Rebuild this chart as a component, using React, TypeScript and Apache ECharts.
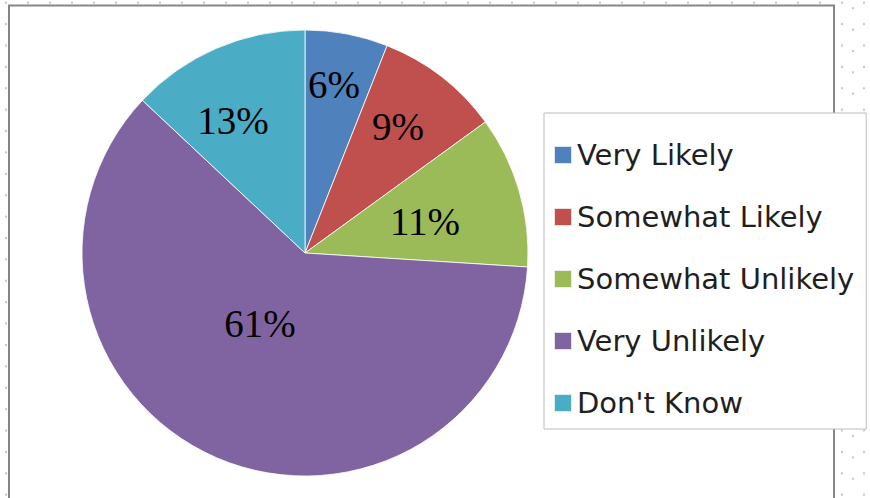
import React, { useEffect, useRef } from 'react';
import * as echarts from 'echarts';

const categories = ['Very Likely', 'Somewhat Likely', 'Somewhat Unlikely', 'Very Unlikely', "Don't Know"];
const values = [6, 9, 11, 61, 13];
const colors = ['#4F81BD', '#C0504D', '#9BBB59', '#8064A2', '#4BACC6'];
// label nudges from the default inside position (px)
const labelShift: number[][] = [[7.5, -56], [22.8, -36], [10, 0], [0.5, -34.5], [-26.5, -27.5]];

export default function App() {
  const ref = useRef<HTMLDivElement>(null);
  useEffect(() => {
    const chart = echarts.init(ref.current!, null, { renderer: 'svg' });
    chart.setOption({
      animation: false,
      color: colors,
      graphic: [
        {
          type: 'rect',
          z: -10,
          silent: true,
          shape: { x: 9, y: 5.5, width: 825, height: 600 },
          style: { fill: '#ffffff', stroke: '#858585', lineWidth: 2 },
        },
      ],
      legend: {
        orient: 'vertical',
        left: 544,
        top: 113,
        data: categories,
        icon: 'rect',
        itemWidth: 18,
        itemHeight: 18,
        itemGap: 32,
        padding: [27, 12, 11, 9],
        backgroundColor: '#ffffff',
        borderColor: '#bdbdbd',
        borderWidth: 1,
        z: 20,
        selectedMode: false,
        textStyle: {
          fontFamily: 'DejaVu Sans',
          fontSize: 29,
          lineHeight: 30,
          color: '#1f1f1f',
        },
      },
      series: [
        {
          type: 'pie',
          center: [305, 253],
          radius: 223,
          startAngle: 90,
          clockwise: true,
          avoidLabelOverlap: false,
          silent: true,
          label: {
            show: true,
            position: 'inside',
            formatter: '{c}%',
            fontFamily: 'Liberation Serif',
            fontSize: 39,
            color: '#000000',
            textBorderWidth: 0,
          },
          labelLine: { show: false },
          itemStyle: { borderColor: 'rgba(255,255,255,0.8)', borderWidth: 1 },
          emphasis: { disabled: true },
          labelLayout: (p: any) => ({ dx: labelShift[p.dataIndex][0], dy: labelShift[p.dataIndex][1] }),
          data: categories.map((n, i) => ({ name: n, value: values[i] })),
        },
      ],
    });
    return () => chart.dispose();
  }, []);
  return (
    <div
      style={{
        position: 'fixed',
        left: 0,
        top: 0,
        width: 870,
        height: 498,
        backgroundColor: '#ffffff',
        backgroundImage:
          'radial-gradient(circle, #c4c4f0 1px, rgba(255,255,255,0) 1.6px), radial-gradient(circle, #c4c4f0 1px, rgba(255,255,255,0) 1.6px)',
        backgroundSize: '22px 21.4px, 22px 21.4px',
        backgroundPosition: '-5px -8px, 6px -2.5px',
      }}
    >
      <div ref={ref} style={{ width: 870, height: 498 }} />
    </div>
  );
}
